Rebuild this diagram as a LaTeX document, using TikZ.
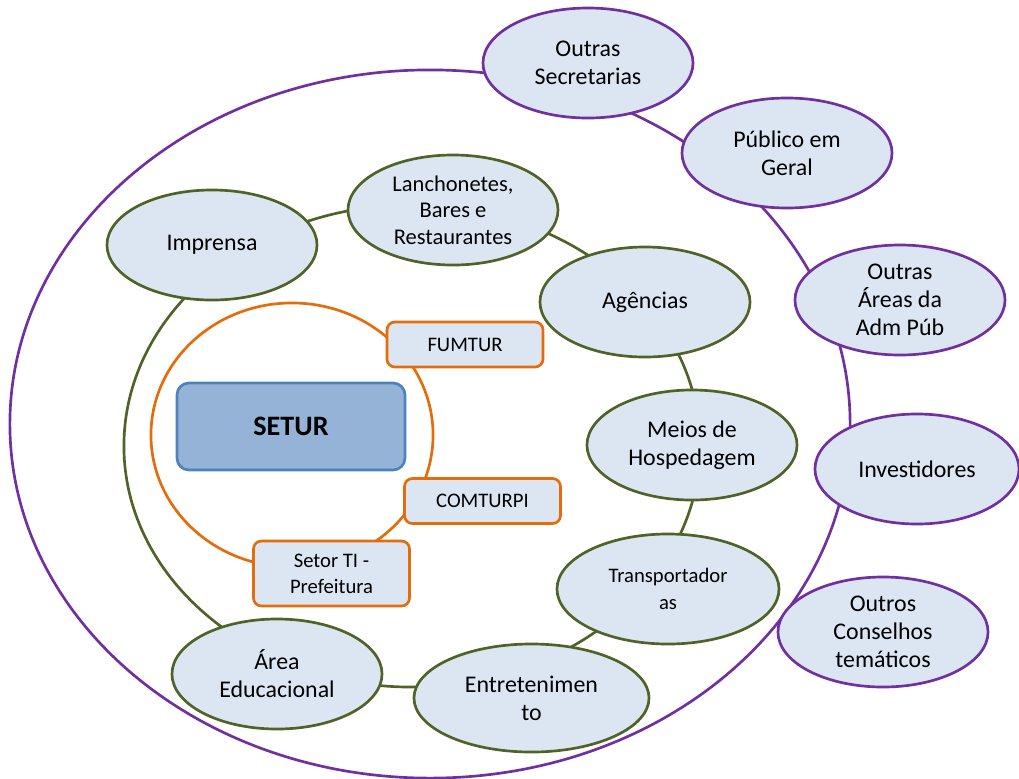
\documentclass[tikz,border=0pt]{standalone}
\usepackage{fontspec}
\setmainfont{Carlito}
\usetikzlibrary{shapes.geometric}
\definecolor{ringpurple}{HTML}{7030A0}
\definecolor{ringgreen}{HTML}{4F6228}
\definecolor{ringorange}{HTML}{E46C0A}
\definecolor{nodefill}{HTML}{DCE6F2}
\definecolor{setfill}{HTML}{95B3D7}
\definecolor{setdraw}{HTML}{4F81BD}
\begin{document}
\begin{tikzpicture}[x=0.025cm, y=-0.025cm, line width=1.9pt,
    ring/.style={ellipse, inner sep=0pt},
    ext/.style={ellipse, draw=ringpurple, fill=nodefill, inner sep=0pt,
      minimum width=5.25cm, minimum height=2.75cm, align=center,
      font=\fontsize{17}{20}\selectfont},
    int/.style={ext, draw=ringgreen},
    unit/.style={rectangle, rounded corners=0.2cm, draw=ringorange, fill=nodefill,
      minimum width=3.9cm, minimum height=1.125cm, align=center,
      font=\fontsize{14.7}{18.5}\selectfont}]
  \useasboundingbox (0,0) rectangle (1019,778);
  % rings
  \node (outer) [ring, draw=ringpurple, minimum width=21cm, minimum height=17.7cm] at (430,424) {};
  \node (inner) [ring, draw=ringgreen, minimum width=14.4cm, minimum height=12.05cm] at (412,446) {};
  \node (core)  [ring, draw=ringorange, minimum width=7.05cm, minimum height=6.6cm] at (292,435) {};
  % outer ring
  \node (OS) [ext] at (588,63)  {Outras\\Secretarias};
  \node (PG) [ext] at (787,153) {Público em\\Geral};
  \node (OA) [ext] at (900,300) {Outras\\Áreas da\\Adm Púb};
  \node (IV) [ext, minimum width=5.1cm] at (917,469) {Investidores};
  \node (OC) [ext] at (883,632) {Outros\\Conselhos\\temáticos};
  % inner ring
  \node (IM) [int] at (212,245) {Imprensa};
  \node (LB) [int, font=\fontsize{16}{19}\selectfont] at (453,210) {Lanchonetes,\\Bares e\\Restaurantes};
  \node (AG) [int] at (645,302) {Agências};
  \node (MH) [int] at (692,445) {Meios de\\Hospedagem};
  \node (TR) [int, minimum width=5.55cm, font=\fontsize{14.7}{19}\selectfont] at (668,589) {Transportador\\as};
  \node (EN) [int, minimum width=5.875cm, minimum height=2.7cm] at (531.5,698) {Entretenimen\\to};
  \node (AE) [int, minimum width=5.25cm] at (277,674) {Área\\Educacional};
  % core
  \node (ST) [rectangle, rounded corners=0.3cm, draw=setdraw, fill=setfill,
    minimum width=5.7cm, minimum height=2.175cm,
    font=\bfseries\fontsize{20}{24}\selectfont] at (291,426.5) {SETUR};
  \node (FU) [unit] at (465,344.5) {FUMTUR};
  \node (CO) [unit] at (482.5,501) {COMTURPI};
  \node (TI) [unit, minimum height=1.625cm] at (331.5,573.5) {Setor TI -\\Prefeitura};
\end{tikzpicture}
\end{document}
